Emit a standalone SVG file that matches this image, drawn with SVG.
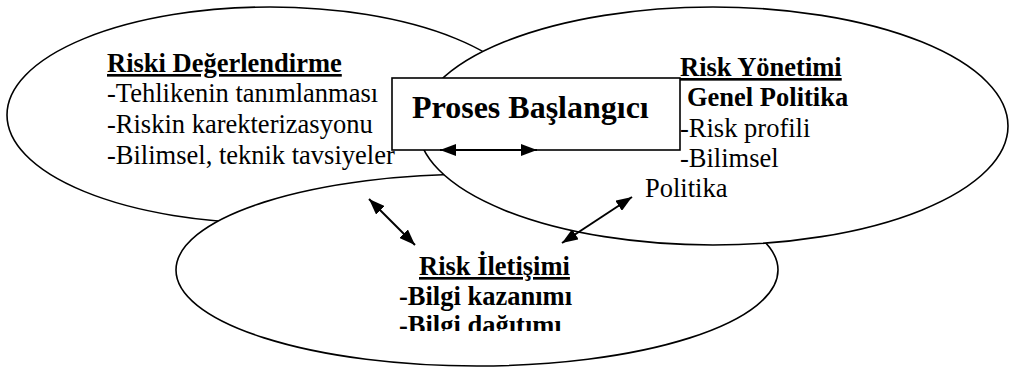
<svg xmlns="http://www.w3.org/2000/svg" width="1010" height="367" viewBox="0 0 1010 367">
  <style>
    .shape { fill: #ffffff; stroke: #000000; stroke-width: 1.6; }
    .t { font-family: "Liberation Serif", "Times New Roman", serif; font-size: 26.5px; fill: #000000; }
    .b { font-weight: bold; }
    .u { text-decoration: underline; }
    .title { font-family: "Liberation Serif", "Times New Roman", serif; font-size: 32px; font-weight: bold; fill: #000000; }
    .conn { stroke: #000000; stroke-width: 2; fill: none; marker-start: url(#ah); marker-end: url(#ah); }
  </style>
  <defs>
    <marker id="ah" viewBox="0 0 16 12" refX="16" refY="6" markerWidth="16" markerHeight="12" markerUnits="userSpaceOnUse" orient="auto-start-reverse">
      <path d="M0,0 L16,6 L0,12 Z" fill="#000000"/>
    </marker>
    <clipPath id="clipBottom">
      <rect x="150" y="200" width="700" height="131"/>
    </clipPath>
  </defs>

  <g id="node-risk-degerlendirme">
    <ellipse class="shape" cx="270" cy="115" rx="263" ry="108"/>
  </g>
  <g id="node-risk-iletisimi">
    <ellipse class="shape" cx="477" cy="270" rx="301" ry="96"/>
  </g>
  <g id="node-risk-yonetimi">
    <ellipse class="shape" cx="713" cy="126" rx="295" ry="119"/>
  </g>
  <g id="node-proses">
    <rect class="shape" x="392" y="78" width="288" height="72"/>
    <text class="title" x="412" y="118">Proses Başlangıcı</text>
  </g>

  <g id="labels-risk-degerlendirme">
    <text class="t b u" x="107" y="72">Riski Değerlendirme</text>
    <text class="t" x="107" y="102">-Tehlikenin tanımlanması</text>
    <text class="t" x="107" y="133">-Riskin karekterizasyonu</text>
    <text class="t" x="107" y="164">-Bilimsel, teknik tavsiyeler</text>
  </g>
  <g id="labels-risk-yonetimi">
    <text class="t b u" x="680" y="76">Risk Yönetimi</text>
    <text class="t b" x="687" y="106">Genel Politika</text>
    <text class="t" x="680" y="137">-Risk profili</text>
    <text class="t" x="680" y="167">-Bilimsel</text>
    <text class="t" x="645" y="197">Politika</text>
  </g>
  <g id="labels-risk-iletisimi">
    <text class="t b u" x="419" y="275">Risk İletişimi</text>
    <text class="t b" x="399" y="305">-Bilgi kazanımı</text>
    <text class="t b" x="399" y="334" clip-path="url(#clipBottom)">-Bilgi dağıtımı</text>
  </g>

  <g id="connectors">
    <line class="conn" x1="440" y1="150" x2="537" y2="150"/>
    <line class="conn" x1="369" y1="199" x2="415" y2="245"/>
    <line class="conn" x1="632" y1="197" x2="562" y2="243"/>
  </g>
</svg>
